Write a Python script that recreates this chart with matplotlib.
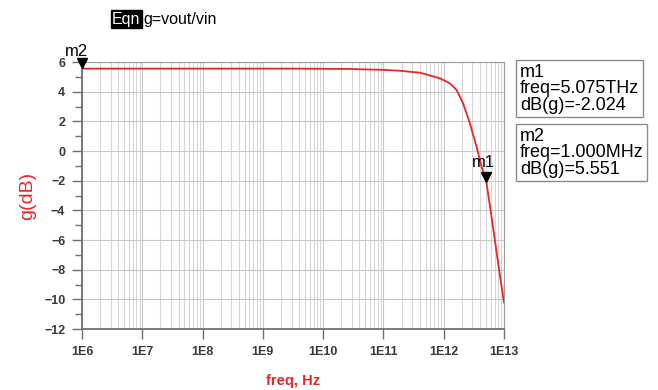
import numpy as np
import matplotlib.pyplot as plt
from matplotlib.ticker import LogLocator, FixedLocator, NullFormatter

plt.rcParams['font.family'] = ['Liberation Sans', 'DejaVu Sans']

# simulated gain of g = vout/vin
freq = [1e6, 1e7, 1e8, 1e9, 4.1e9, 2.75e10, 1e11, 1.86e11, 4.03e11, 8.65e11,
        1.27e12, 1.64e12, 2.1e12, 2.72e12, 3.51e12, 4.25e12, 5.075e12, 6e12,
        7.06e12, 8.3e12, 1e13]
gain_db = [5.551, 5.551, 5.551, 5.551, 5.55, 5.53, 5.47, 5.41, 5.28, 4.90,
           4.56, 4.11, 3.21, 1.87, 0.29, -1.06, -2.024, -4.0,
           -6.0, -8.0, -10.2]

m1_freq, m1_db = 5.075e12, -2.024
m2_freq, m2_db = 1e6, 5.551

xticks = [1e6, 1e7, 1e8, 1e9, 1e10, 1e11, 1e12, 1e13]
xtick_labels = ['1E6', '1E7', '1E8', '1E9', '1E10', '1E11', '1E12', '1E13']
yticks = [6, 4, 2, 0, -2, -4, -6, -8, -10, -12]

fig = plt.figure(figsize=(6.58, 3.9), dpi=100)
ax = fig.add_axes([0.1246, 0.1564, 0.6413, 0.6846])

ax.semilogx(freq, gain_db, color='#e8262a', lw=1.3, zorder=3)
ax.set_xlim(1e6, 1e13)
ax.set_ylim(-12, 6)

ax.set_xticks(xticks)
ax.set_xticklabels(xtick_labels)
ax.xaxis.set_minor_locator(LogLocator(base=10, subs=np.arange(2, 10), numticks=20))
ax.xaxis.set_minor_formatter(NullFormatter())
ax.set_yticks(yticks)
ax.yaxis.set_minor_locator(FixedLocator(np.arange(-11, 6, 2)))

ax.grid(which='major', color='#c8c8c8', lw=0.8)
ax.grid(which='minor', axis='x', color='#d6d6d6', lw=0.8)
ax.tick_params(which='major', direction='out', length=7, width=1, color='#707070',
               labelsize=9, labelcolor='#3a3a3a', pad=5)
ax.tick_params(axis='x', which='minor', length=0)
ax.tick_params(axis='y', which='minor', direction='out', length=5, width=1, color='#707070')
for lab in ax.get_xticklabels() + ax.get_yticklabels():
    lab.set_fontweight('bold')

ax.spines['left'].set_color('#707070')
ax.spines['bottom'].set_color('#707070')
ax.spines['left'].set_linewidth(1.3)
ax.spines['bottom'].set_linewidth(1.3)
ax.spines['top'].set_color('#9a9a9a')
ax.spines['right'].set_color('#9a9a9a')

ax.set_ylabel('g(dB)', color='#e8262a', fontsize=14, labelpad=6)
ax.set_xlabel('freq, Hz', color='#e8262a', fontsize=10.5, fontweight='bold', labelpad=12)

# markers
ax.plot([m2_freq], [m2_db + 0.35], marker='v', color='black', ms=7, clip_on=False, zorder=5)
ax.annotate('m2', (m2_freq, m2_db), xytext=(-12, 9), textcoords='offset points',
            fontsize=12, annotation_clip=False)
ax.plot([m1_freq], [m1_db + 0.25], marker='v', color='black', ms=7, zorder=5)
ax.annotate('m1', (m1_freq, m1_db), xytext=(-10, 10), textcoords='offset points',
            fontsize=12)

# equation header
fig.text(0.1705, 0.951, 'Eqn', fontsize=11.5, color='white', va='center',
         bbox=dict(facecolor='black', edgecolor='black', pad=1.0))
fig.text(0.2185, 0.951, 'g=vout/vin', fontsize=11.5, color='black', va='center')

# marker readouts
box = dict(facecolor='white', edgecolor='#8a8a8a', lw=1, boxstyle='square,pad=0.2')
fig.text(0.79, 0.836, 'm1\nfreq=%.3fTHz\ndB(g)=%.3f' % (m1_freq / 1e12, m1_db),
         fontsize=13, va='top', ha='left', linespacing=0.95, bbox=box)
fig.text(0.79, 0.672, 'm2\nfreq=%.3fMHz\ndB(g)=%.3f' % (m2_freq / 1e6, m2_db),
         fontsize=13, va='top', ha='left', linespacing=0.95, bbox=box)

fig.savefig('out.png', dpi=100)
